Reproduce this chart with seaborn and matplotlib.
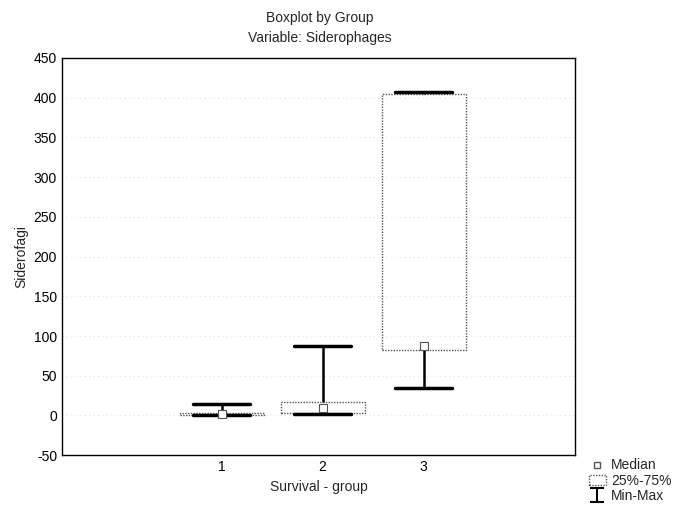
import numpy as np
import pandas as pd
import matplotlib
matplotlib.use("Agg")
import matplotlib.pyplot as plt
import seaborn as sns
from matplotlib.patches import Patch
from matplotlib.lines import Line2D

# Summary values (min, quartiles, median, max per group)
groups = ["1", "2", "3"]
group_min = [0, 2, 35]
group_q1 = [0, 3, 82]
group_median = [2, 10, 88]
group_q3 = [3, 17, 404]
group_max = [15, 88, 407]
y_ticks = [-50, 0, 50, 100, 150, 200, 250, 300, 350, 400, 450]

# five points per group -> linear quantiles reproduce the summary exactly
rows = []
for g, a, b, c, d, e in zip(groups, group_min, group_q1, group_median, group_q3, group_max):
    for v in (a, b, c, d, e):
        rows.append({"group": g, "value": v})
df = pd.DataFrame(rows)

sns.set_style("white")
plt.rcParams["font.family"] = ["Liberation Sans", "DejaVu Sans"]
plt.rcParams["axes.unicode_minus"] = False

fig = plt.figure(figsize=(6.8, 5.22), dpi=100)
ax = fig.add_axes([0.091, 0.128, 0.755, 0.761])

ax.yaxis.grid(True, color="#e2e2e2", linestyle=(0, (1, 3)), linewidth=0.8)
ax.set_axisbelow(True)

sns.boxplot(data=df, x="group", y="value", order=groups, whis=(0, 100),
            width=0.83, fill=False, ax=ax, linewidth=1,
            boxprops=dict(color="#555555", linestyle=(0, (1, 1)), linewidth=1),
            medianprops=dict(visible=False),
            whiskerprops=dict(color="black", linewidth=1.8),
            capprops=dict(color="black", linewidth=2.5),
            capwidths=0.57, showfliers=False)

# median as small hollow square
med_df = pd.DataFrame({"group": groups, "value": group_median})
sns.scatterplot(data=med_df, x="group", y="value", marker="s", s=30,
                facecolor="white", edgecolor="#555555", linewidth=0.8,
                ax=ax, zorder=5)

ax.set_xlim(-1.58, 3.5)
ax.set_ylim(-50, 450)
ax.set_yticks(y_ticks)
for s in ax.spines.values():
    s.set_color("black")
    s.set_linewidth(1)
ax.tick_params(axis="both", labelsize=10, length=3, direction="in", colors="black")
ax.set_xlabel("Survival - group", fontsize=10)
ax.set_ylabel("Siderofagi", fontsize=10)

fig.text(0.47, 0.965, "Boxplot by Group", ha="center", va="center", fontsize=10)
fig.text(0.47, 0.928, "Variable: Siderophages", ha="center", va="center", fontsize=10)

eb = ax.errorbar([np.nan], [np.nan], yerr=[1], fmt="none", capsize=5,
                 color="black", elinewidth=1.5, capthick=1.5)
handles = [
    Line2D([], [], marker="s", linestyle="none", markersize=5,
           markerfacecolor="white", markeredgecolor="#555555"),
    Patch(facecolor="white", edgecolor="#555555", linestyle=(0, (1, 1))),
    eb,
]
fig.legend(handles, ["Median", "25%-75%", "Min-Max"], loc="lower right",
           bbox_to_anchor=(1.0, 0.02), frameon=False, fontsize=10,
           handlelength=1.2, handletextpad=0.4, labelspacing=0.1,
           borderaxespad=0.2)

fig.savefig("out.png", dpi=100)
